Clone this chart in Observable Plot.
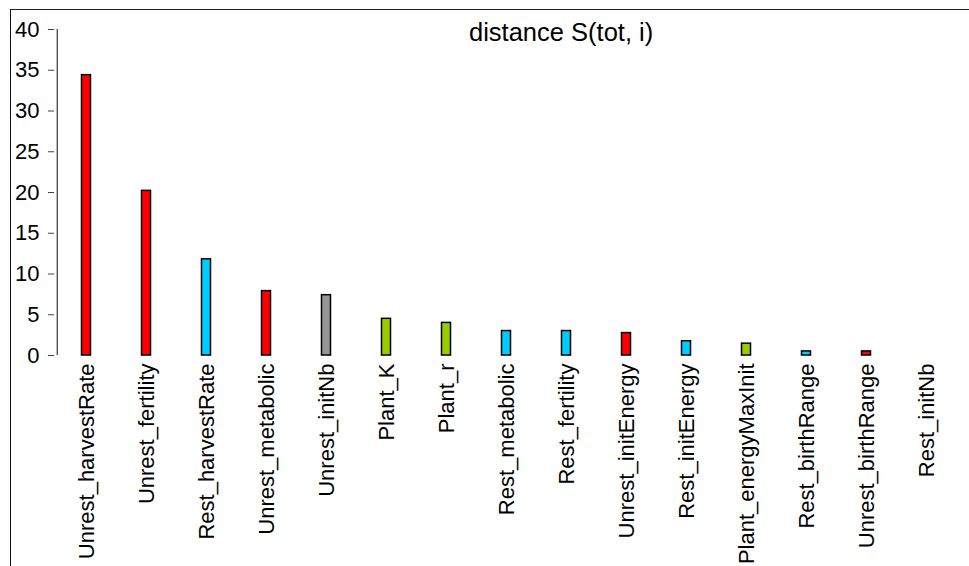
<!DOCTYPE html>
<html>
<head>
<meta charset="utf-8">
<script src="https://cdn.jsdelivr.net/npm/d3@7"></script>
<script src="https://cdn.jsdelivr.net/npm/@observablehq/plot@0.6"></script>
<style>
  html, body { margin: 0; padding: 0; background: #fff; }
  #wrap { position: relative; width: 969px; height: 566px; overflow: hidden; font-family: "Liberation Sans", Arial, sans-serif; }
  #border { position: absolute; left: 10px; top: 9px; right: -5px; bottom: -5px; border-left: 1.5px solid #111; border-top: 1.5px solid #222; pointer-events: none; }
  #title { position: absolute; left: 469px; top: 20px; font-size: 25.5px; color: #000; white-space: nowrap; line-height: 1; }
</style>
</head>
<body>
<div id="wrap">
  <div id="chart"></div>
  <div id="border"></div>
  <div id="title">distance S(tot, i)</div>
</div>
<script>
const categories = ["Unrest_harvestRate","Unrest_fertility","Rest_harvestRate","Unrest_metabolic","Unrest_initNb","Plant_K","Plant_r","Rest_metabolic","Rest_fertility","Unrest_initEnergy","Rest_initEnergy","Plant_energyMaxInit","Rest_birthRange","Unrest_birthRange","Rest_initNb"];
const values = [34.4, 20.2, 11.8, 7.9, 7.4, 4.5, 4.0, 3.0, 3.0, 2.75, 1.75, 1.45, 0.5, 0.5, 0];
const groups = ["Unrest","Unrest","Rest","Unrest","Init","Plant","Plant","Rest","Rest","Unrest","Rest","Plant","Rest","Unrest","Rest"];
const groupNames = ["Unrest","Rest","Plant","Init"];
const groupColors = ["#ff0000","#00ccff","#99cc00","#969696"];
const yTicks = [0,5,10,15,20,25,30,35,40];

const data = categories.map((c, i) => ({name: c, value: values[i], group: groups[i]}));
const plotW = 969, mL = 54, mR = 9;
const halfBand = (plotW - mL - mR) / categories.length / 2;

const chart = Plot.plot({
  width: plotW,
  height: 566,
  marginLeft: mL,
  marginRight: mR,
  marginTop: 29,
  marginBottom: 211,
  style: {fontFamily: "'Liberation Sans', Arial, sans-serif", fontSize: "22px", color: "#000", background: "transparent"},
  x: {domain: categories, padding: 0, label: null},
  y: {domain: [0, 40], label: null},
  color: {domain: groupNames, range: groupColors},
  marks: [
    Plot.barY(data, {x: "name", y: "value", fill: "group", stroke: "#000", strokeWidth: 1.5, insetLeft: 25.5, insetRight: 25.5, dx: -1}),
    Plot.ruleX([categories[0]], {dx: -halfBand, stroke: "#444", strokeWidth: 1.3}),
    Plot.axisY({ticks: yTicks, tickSize: 6, tickPadding: 9, label: null, stroke: "#444", fontSize: 22}),
    Plot.axisX({tickSize: 0, tickPadding: 8, tickRotate: -90, label: null, fontSize: 22, dx: -1})
  ]
});
document.getElementById("chart").appendChild(chart);
</script>
</body>
</html>
